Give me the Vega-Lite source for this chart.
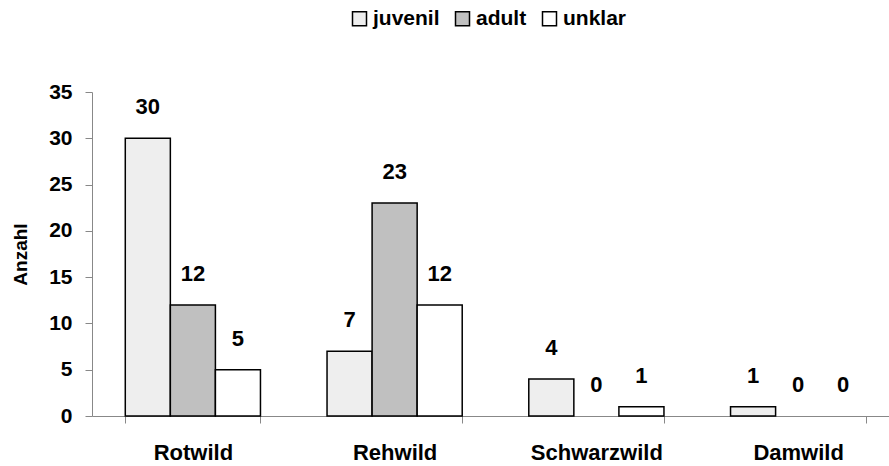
{
  "$schema": "https://vega.github.io/schema/vega-lite/v6.json",
  "width": 807,
  "height": 324,
  "autosize": "none",
  "padding": {"left": 92, "top": 92, "right": 0, "bottom": 50},
  "background": "white",
  "config": {
    "font": "Liberation Sans",
    "view": {"stroke": null}
  },
  "data": {
    "values": [
      {"art": "Rotwild", "alter": "juvenil", "anzahl": 30},
      {"art": "Rotwild", "alter": "adult", "anzahl": 12},
      {"art": "Rotwild", "alter": "unklar", "anzahl": 5},
      {"art": "Rehwild", "alter": "juvenil", "anzahl": 7},
      {"art": "Rehwild", "alter": "adult", "anzahl": 23},
      {"art": "Rehwild", "alter": "unklar", "anzahl": 12},
      {"art": "Schwarzwild", "alter": "juvenil", "anzahl": 4},
      {"art": "Schwarzwild", "alter": "adult", "anzahl": 0},
      {"art": "Schwarzwild", "alter": "unklar", "anzahl": 1},
      {"art": "Damwild", "alter": "juvenil", "anzahl": 1},
      {"art": "Damwild", "alter": "adult", "anzahl": 0},
      {"art": "Damwild", "alter": "unklar", "anzahl": 0}
    ]
  },
  "encoding": {
    "x": {
      "field": "art", "type": "nominal", "sort": null,
      "scale": {"paddingInner": 0.33, "paddingOuter": 0.165},
      "axis": {
        "title": null, "labelAngle": 0, "labelFont": "Liberation Sans", "labelFontWeight": "bold",
        "labelFontSize": 22, "labelColor": "black", "labelPadding": 19,
        "tickBand": "extent", "tickSize": 7, "tickColor": "#888888", "domainColor": "#888888",
        "domainWidth": 1, "tickWidth": 1
      }
    },
    "xOffset": {"field": "alter", "type": "nominal", "sort": ["juvenil", "adult", "unklar"]},
    "y": {
      "field": "anzahl", "type": "quantitative",
      "scale": {"domain": [0, 35], "nice": false},
      "axis": {
        "title": "Anzahl", "titleFont": "Liberation Sans", "titleFontWeight": "bold", "titleFontSize": 19,
        "titleColor": "black", "titlePadding": 18,
        "values": [0, 5, 10, 15, 20, 25, 30, 35], "grid": false,
        "labelFont": "Liberation Sans", "labelFontWeight": "bold", "labelFontSize": 21, "labelColor": "black",
        "labelPadding": 13, "tickSize": 7, "tickColor": "#888888", "domainColor": "#888888"
      }
    }
  },
  "layer": [
    {
      "transform": [{"filter": "datum.anzahl > 0"}],
      "mark": {"type": "bar", "stroke": "black", "strokeWidth": 1.5},
      "encoding": {
        "fill": {
          "field": "alter", "type": "nominal",
          "scale": {"domain": ["juvenil", "adult", "unklar"], "range": ["#eeeeee", "#c0c0c0", "#ffffff"]},
          "legend": {
            "title": null, "orient": "none", "direction": "horizontal",
            "legendX": 257, "legendY": -84,
            "symbolType": "square", "symbolSize": 196, "symbolStrokeColor": "black", "symbolStrokeWidth": 1.5,
            "labelFont": "Liberation Sans", "labelFontWeight": "bold", "labelFontSize": 21, "labelColor": "black",
            "labelOffset": 3, "columnPadding": 12
          }
        }
      }
    },
    {
      "mark": {"type": "text", "baseline": "bottom", "dy": -19, "font": "Liberation Sans", "fontWeight": "bold", "fontSize": 22, "color": "black"},
      "encoding": {"text": {"field": "anzahl", "type": "quantitative"}}
    }
  ]
}
